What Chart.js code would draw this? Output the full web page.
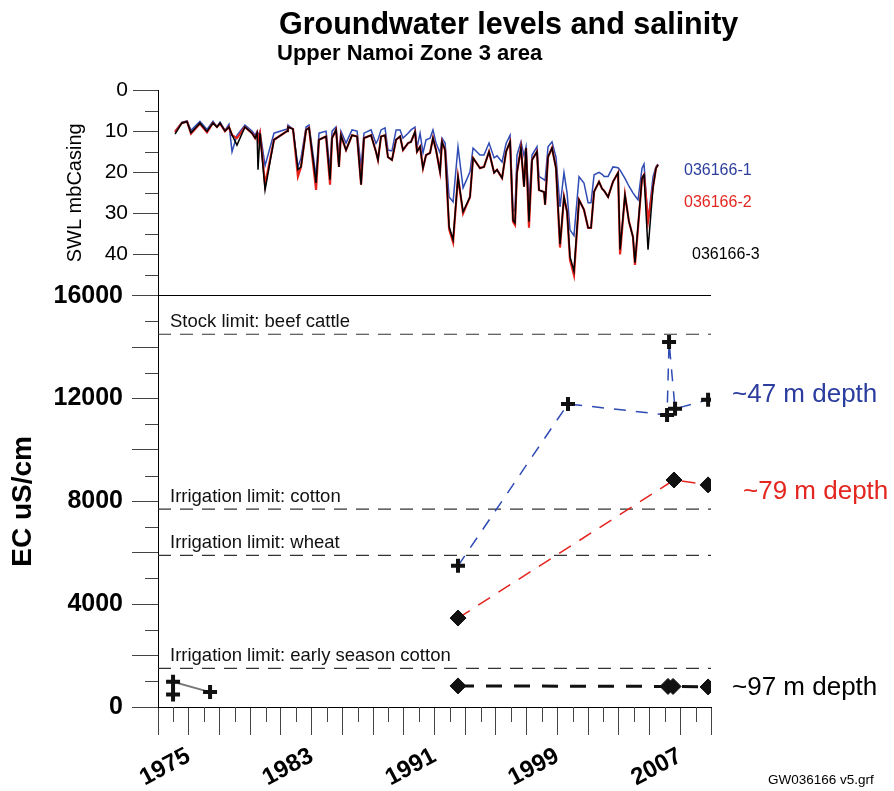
<!DOCTYPE html>
<html>
<head>
<meta charset="utf-8">
<title>Groundwater levels and salinity</title>
<script src="https://cdn.jsdelivr.net/npm/chart.js@4.4.1/dist/chart.umd.min.js"></script>
<style>
  html, body { margin: 0; padding: 0; background: #fff; }
  #wrap { width: 894px; height: 791px; }
</style>
</head>
<body>
<div id="wrap"><canvas id="chart" width="894" height="791"></canvas></div>
<script>
// ==============================
// Datos
// ==============================
const TITLE = 'Groundwater levels and salinity';
const SUBTITLE = 'Upper Namoi Zone 3 area';
const FOOTER = 'GW036166 v5.grf';

const xLabelYears = [1975, 1983, 1991, 1999, 2007];

// Nivel estático (SWL, m bajo el brocal) - tres piezómetros
const swlYears = [
  1974.11, 1974.56, 1974.89, 1975.15, 1975.73, 1976.19, 1976.58, 1976.84, 1977.04, 1977.36,
  1977.62, 1977.82, 1978.14, 1978.66, 1979.12, 1979.32, 1979.45, 1979.51, 1979.64, 1979.97,
  1980.55, 1981.40, 1981.46, 1981.79, 1982.11, 1982.31, 1982.64, 1982.83, 1983.29, 1983.48,
  1983.94, 1984.20, 1984.33, 1984.59, 1984.78, 1984.91, 1985.24, 1985.63, 1985.96, 1986.22,
  1986.41, 1986.87, 1987.19, 1987.32, 1987.52, 1987.78, 1987.97, 1988.23, 1988.50, 1988.76,
  1988.95, 1989.28, 1989.47, 1989.73, 1989.86, 1990.06, 1990.25, 1990.45, 1990.71, 1990.90,
  1991.10, 1991.36, 1991.49, 1991.69, 1991.95, 1992.21, 1992.53, 1992.86, 1993.31, 1993.51,
  1993.96, 1994.22, 1994.55, 1994.88, 1995.07, 1995.40, 1995.66, 1995.92, 1996.11, 1996.24,
  1996.37, 1996.63, 1996.83, 1996.96, 1997.15, 1997.35, 1997.67, 1997.80, 1998.13, 1998.20,
  1998.39, 1998.65, 1998.91, 1999.17, 1999.43, 1999.63, 1999.82, 2000.08, 2000.41, 2000.73,
  2001.00, 2001.19, 2001.39, 2001.71, 2001.91, 2002.04, 2002.30, 2002.62, 2002.95, 2003.08,
  2003.40, 2003.66, 2003.92, 2004.05, 2004.25, 2004.51, 2004.64, 2004.90, 2005.23, 2005.42,
  2005.55
];
// 036166-1 (azul)
const swl1 = [
  10.0, 7.8, 7.5, 9.8, 7.6, 9.6, 7.6, 9.0, 7.8, 9.8,
  8.3, 15.0, 11.0, 8.5, 10.0, 11.0, 10.0, 11.0, 10.0, 18.4,
  10.5, 9.5, 8.5, 9.5, 18.7, 16.5, 9.0, 8.5, 21.0, 10.5,
  10.0, 19.4, 10.0, 9.0, 16.5, 10.0, 12.9, 9.7, 10.0, 18.7,
  10.5, 9.7, 13.0, 12.1, 9.7, 9.2, 14.6, 14.8, 9.7, 9.7,
  11.7, 10.5, 9.7, 9.0, 14.0, 10.5, 15.3, 12.1, 11.7, 9.7,
  12.9, 15.3, 11.7, 12.9, 26.0, 27.2, 13.8, 23.8, 19.9, 14.1,
  15.8, 15.8, 12.9, 16.5, 16.0, 17.5, 13.0, 11.0, 29.6, 29.0,
  15.8, 12.6, 16.0, 13.8, 27.2, 15.8, 13.8, 21.0, 21.8, 22.0,
  13.8, 12.6, 16.3, 28.4, 20.1, 25.0, 34.0, 35.4, 21.1, 22.6,
  27.4, 27.4, 20.6, 20.0, 20.5, 21.0, 21.0, 18.7, 18.9, 19.5,
  21.5, 23.4, 25.0, 25.7, 26.7, 19.0, 18.0, 32.0, 21.0, 18.7,
  18.0
];
// 036166-2 (rojo)
const swl2 = [
  10.2, 8.0, 7.7, 10.6, 8.2, 10.3, 8.0, 9.0, 8.2, 10.0,
  9.0, 11.0, 11.7, 9.0, 10.5, 11.7, 10.5, 12.5, 10.5, 23.0,
  12.1, 10.0, 9.0, 9.5, 21.0, 18.7, 9.7, 9.2, 24.3, 12.1,
  11.3, 23.0, 11.7, 9.7, 18.7, 11.0, 14.6, 11.0, 11.3, 23.0,
  11.7, 11.0, 15.0, 17.0, 11.3, 11.0, 16.3, 17.0, 12.1, 11.3,
  14.6, 12.9, 12.6, 10.2, 15.0, 13.8, 19.0, 15.8, 15.3, 11.7,
  14.6, 19.9, 12.6, 14.6, 33.8, 37.0, 21.1, 30.0, 26.0, 16.5,
  19.0, 18.7, 15.0, 20.1, 19.4, 21.4, 15.0, 12.6, 32.0, 32.8,
  20.1, 14.1, 23.5, 14.1, 33.5, 17.0, 15.0, 24.3, 24.8, 27.9,
  16.3, 14.1, 19.0, 38.3, 26.0, 29.6, 41.3, 45.0, 26.7, 29.1,
  33.5, 33.5, 24.7, 22.3, 24.0, 24.5, 26.0, 22.3, 20.1, 40.0,
  25.5, 32.0, 35.7, 42.5, 33.5, 21.4, 20.6, 32.0, 23.5, 19.0,
  18.2
];
// 036166-3 (negro)
const swl3 = [
  10.7, 8.0, 7.7, 10.4, 8.0, 10.1, 8.0, 9.0, 8.0, 10.0,
  9.0, 10.9, 13.4, 9.0, 10.5, 11.7, 10.5, 19.4, 10.5, 24.3,
  12.1, 10.0, 9.0, 9.5, 19.4, 18.7, 9.7, 9.2, 22.6, 12.1,
  11.3, 21.8, 11.7, 9.7, 18.7, 11.0, 14.6, 11.0, 11.3, 23.0,
  11.7, 11.0, 15.0, 17.0, 11.3, 11.0, 16.3, 17.0, 12.1, 11.3,
  14.6, 12.9, 12.6, 10.2, 15.0, 13.8, 19.0, 15.8, 15.3, 11.7,
  14.6, 19.9, 12.6, 14.6, 33.2, 36.4, 21.1, 29.6, 26.0, 16.5,
  19.0, 18.7, 15.0, 20.1, 19.4, 21.4, 15.0, 12.6, 31.6, 32.3,
  20.1, 14.1, 23.5, 14.1, 32.0, 17.0, 15.0, 24.3, 24.8, 27.9,
  16.3, 14.1, 19.0, 37.5, 26.0, 29.6, 40.5, 44.0, 26.7, 29.1,
  33.5, 33.5, 24.7, 22.3, 24.0, 24.5, 26.0, 22.3, 20.1, 38.8,
  25.5, 32.0, 35.7, 42.0, 33.0, 21.4, 20.6, 38.8, 23.5, 19.0,
  18.2
];
const swlNames = ['036166-1', '036166-2', '036166-3'];

// Conductividad eléctrica (EC uS/cm)
const ecEarlyYears = [1973.98, 1973.98, 1976.39];
const ecEarly = [490, 980, 580];
const ec47Years = [1992.53, 1999.69, 2006.14, 2006.27, 2006.66, 2008.81];
const ec47 = [5490, 11790, 11360, 14200, 11600, 11950];
const ec79Years = [1992.53, 2006.59, 2008.81];
const ec79 = [3460, 8830, 8640];
const ec97Years = [1992.53, 2006.20, 2006.53, 2008.81];
const ec97 = [820, 800, 800, 780];
const depthLabels = ['~47 m depth', '~79 m depth', '~97 m depth'];

// Límites de uso
const limitValues = [14500, 7700, 5900, 1500];
const limitLabels = [
  'Stock limit: beef cattle',
  'Irrigation limit: cotton',
  'Irrigation limit: wheat',
  'Irrigation limit: early season cotton'
];

// ==============================
// Estilos
// ==============================
const FONT = "'Liberation Sans', Arial, Helvetica, sans-serif";
const BLUE = '#2f4bb4';
const RED = '#e5231d';
const BLUE_TXT = '#2b3d9e';
const RED_TXT = '#e3261f';
const X_MIN = 1973, X_MAX = 2009;

Chart.defaults.font.family = FONT;
Chart.defaults.color = '#000';

const toPts = (xs, ys) => xs.map((x, i) => ({ x: x, y: ys[i] }));

// ==============================
// Ticks cortos (menores) y textos
// ==============================
const minorTicks = {
  id: 'minorTicks',
  afterDraw(chart) {
    const { ctx, chartArea, scales } = chart;
    ctx.save();
    ctx.strokeStyle = '#444';
    ctx.lineWidth = 1;
    ctx.beginPath();
    for (let v = 5; v < 50; v += 10) {
      const y = Math.round(scales.ySWL.getPixelForValue(v)) + 0.5;
      ctx.moveTo(chartArea.left - 13, y);
      ctx.lineTo(chartArea.left, y);
    }
    for (let v = 1000; v < 16000; v += 2000) {
      const y = Math.round(scales.yEC.getPixelForValue(v)) + 0.5;
      ctx.moveTo(chartArea.left - 13, y);
      ctx.lineTo(chartArea.left, y);
    }
    for (let yr = X_MIN + 1; yr < X_MAX; yr += 2) {
      const x = Math.round(scales.x.getPixelForValue(yr)) + 0.5;
      ctx.moveTo(x, chartArea.bottom);
      ctx.lineTo(x, chartArea.bottom + 15);
    }
    ctx.stroke();
    ctx.restore();
  }
};

const annotations = {
  id: 'annotations',
  afterDraw(chart) {
    const { ctx, chartArea, scales } = chart;
    const ec = scales.yEC;
    ctx.save();
    ctx.textAlign = 'left';
    ctx.textBaseline = 'alphabetic';

    // Títulos
    ctx.fillStyle = '#000';
    ctx.font = 'bold 30.5px ' + FONT;
    ctx.fillText(TITLE, 279, 34);
    ctx.font = 'bold 22px ' + FONT;
    ctx.fillText(SUBTITLE, 277, 60);

    // Etiquetas de los límites
    ctx.font = '18.5px ' + FONT;
    ctx.fillStyle = '#111';
    limitLabels.forEach((txt, i) => {
      ctx.fillText(txt, chartArea.left + 12, ec.getPixelForValue(limitValues[i]) - 7);
    });

    // Nombres de los piezómetros
    ctx.font = '16px ' + FONT;
    const wellPos = [[684, 175], [684, 207], [692, 259]];
    const wellCol = [BLUE_TXT, RED_TXT, '#000'];
    swlNames.forEach((txt, i) => {
      ctx.fillStyle = wellCol[i];
      ctx.fillText(txt, wellPos[i][0], wellPos[i][1]);
    });

    // Profundidades
    ctx.font = '26px ' + FONT;
    const depthPos = [[732, 402], [743, 499], [732, 695]];
    const depthCol = [BLUE_TXT, RED_TXT, '#000'];
    depthLabels.forEach((txt, i) => {
      ctx.fillStyle = depthCol[i];
      ctx.fillText(txt, depthPos[i][0], depthPos[i][1]);
    });

    // Pie
    ctx.fillStyle = '#000';
    ctx.font = "13.5px 'Liberation Sans Narrow', " + FONT;
    ctx.fillText(FOOTER, 768, 784);
    ctx.restore();
  }
};

// ==============================
// Datasets (el primero se dibuja encima)
// ==============================
const ecLine = (xs, ys, color, width, dash, style, radius, border) => ({
  data: toPts(xs, ys),
  yAxisID: 'yEC',
  showLine: true,
  borderColor: color,
  borderWidth: width,
  borderDash: dash,
  pointStyle: style,
  pointRadius: radius,
  pointBorderWidth: border,
  pointBackgroundColor: '#111',
  pointBorderColor: '#111'
});

const datasets = [
  ecLine(ec97Years, ec97, '#111', 3, [16, 12], 'rectRot', 8, 1),
  ecLine(ec79Years, ec79, RED, 1.5, [14, 10], 'rectRot', 8, 1),
  ecLine(ec47Years, ec47, BLUE, 1.5, [12, 10], 'cross', 7, 4),
  ecLine(ecEarlyYears, ecEarly, '#777', 2, [], 'cross', 7, 4)
];

limitValues.forEach(v => {
  datasets.push({
    data: [{ x: X_MIN, y: v }, { x: X_MAX, y: v }],
    yAxisID: 'yEC',
    showLine: true,
    borderColor: '#333',
    borderWidth: 1.2,
    borderDash: [13, 9],
    pointRadius: 0
  });
});

[[swl3, '#000', 1.5], [swl2, RED, 2.2], [swl1, BLUE, 1.5]].forEach(([ys, color, w]) => {
  datasets.push({
    data: toPts(swlYears, ys),
    yAxisID: 'ySWL',
    showLine: true,
    borderColor: color,
    borderWidth: w,
    pointRadius: 0,
    tension: 0
  });
});

// ==============================
// Gráfico
// ==============================
new Chart(document.getElementById('chart').getContext('2d'), {
  type: 'scatter',
  data: { datasets: datasets },
  options: {
    responsive: false,
    animation: false,
    layout: { padding: { top: 90, left: 0, right: 183, bottom: 0 } },
    plugins: { legend: { display: false }, tooltip: { enabled: false } },
    scales: {
      x: {
        type: 'linear',
        min: X_MIN,
        max: X_MAX,
        afterFit: s => { s.height = 84; },
        border: { display: true, color: '#000', width: 1 },
        grid: {
          drawOnChartArea: false,
          drawTicks: true,
          tickLength: 28,
          tickColor: c => (c.tick && c.tick.value % 2 === 1) ? '#444' : 'rgba(0,0,0,0)'
        },
        ticks: {
          stepSize: 1,
          autoSkip: false,
          minRotation: 28,
          maxRotation: 28,
          padding: 7,
          font: { size: 24, weight: 'bold' },
          callback: v => xLabelYears.includes(v) ? String(v) : ''
        }
      },
      // el eje EC va primero para que el de SWL quede arriba en la pila
      yEC: {
        type: 'linear',
        position: 'left',
        stack: 'panels',
        stackWeight: 2,
        min: 0,
        max: 16000,
        afterFit: s => { s.width = 158; },
        border: { display: true, color: '#000', width: 1 },
        grid: {
          drawOnChartArea: false,
          drawTicks: true,
          tickLength: 26,
          tickColor: c => (c.tick && c.tick.value % 2000 === 0) ? '#444' : 'rgba(0,0,0,0)'
        },
        ticks: {
          stepSize: 1000,
          autoSkip: false,
          padding: 9,
          font: { size: 25, weight: 'bold' },
          callback: v => (v % 4000 === 0) ? String(v) : ''
        },
        title: {
          display: true,
          text: 'EC uS/cm',
          font: { size: 28, weight: 'bold' },
          padding: { top: 6, bottom: 0 }
        }
      },
      ySWL: {
        type: 'linear',
        position: 'left',
        stack: 'panels',
        stackWeight: 1,
        reverse: true,
        min: 0,
        max: 50,
        afterFit: s => { s.width = 158; },
        border: { display: true, color: '#000', width: 1 },
        grid: {
          drawOnChartArea: true,
          drawTicks: true,
          tickLength: 25,
          color: c => (c.tick && c.tick.value === 50) ? '#000' : 'rgba(0,0,0,0)',
          tickColor: c => (c.tick && c.tick.value % 10 === 0) ? '#444' : 'rgba(0,0,0,0)'
        },
        ticks: {
          stepSize: 5,
          autoSkip: false,
          padding: 5,
          font: { size: 21 },
          callback: v => (v % 10 === 0 && v < 50) ? String(v) : ''
        },
        title: {
          display: true,
          text: 'SWL mbCasing',
          font: { size: 20 },
          padding: { top: 63, bottom: 0 }
        }
      }
    }
  },
  plugins: [minorTicks, annotations]
});
</script>
</body>
</html>
